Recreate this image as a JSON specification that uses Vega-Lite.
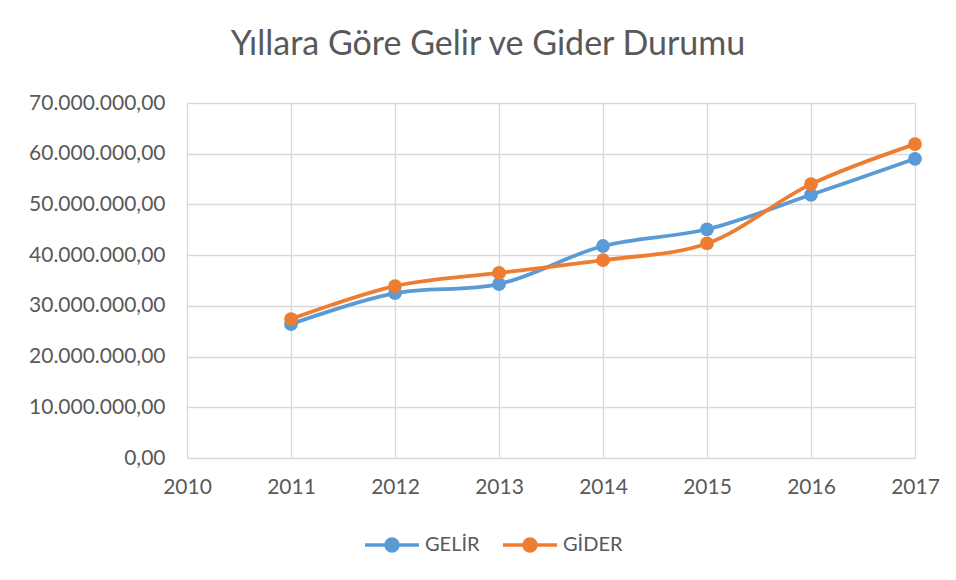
{
  "$schema": "https://vega.github.io/schema/vega-lite/v6.json",
  "width": 728,
  "height": 355,
  "autosize": {"type": "none"},
  "padding": {"left": 187, "top": 103, "right": 41, "bottom": 122},
  "background": "white",
  "config": {
    "locale": {"number": {"decimal": ",", "thousands": ".", "grouping": [3], "currency": ["", " ₺"]}},
    "font": "Lato",
    "view": {"stroke": null},
    "axis": {"labelFont": "Lato", "labelFontSize": 21, "labelColor": "#595959", "gridColor": "#D9D9D9", "gridWidth": 1.3, "domain": false, "ticks": false, "title": null, "labelFlush": false}
  },
  "title": {"text": "Yıllara Göre Gelir ve Gider Durumu", "font": "Lato", "fontSize": 34, "fontWeight": "normal", "color": "#595959", "anchor": "middle", "dx": -63, "offset": 30},
  "data": {"values": [
    {"yil": 2011, "seri": "GELİR", "deger": 26400000},
    {"yil": 2012, "seri": "GELİR", "deger": 32500000},
    {"yil": 2013, "seri": "GELİR", "deger": 34300000},
    {"yil": 2014, "seri": "GELİR", "deger": 41800000},
    {"yil": 2015, "seri": "GELİR", "deger": 45100000},
    {"yil": 2016, "seri": "GELİR", "deger": 51900000},
    {"yil": 2017, "seri": "GELİR", "deger": 59000000},
    {"yil": 2011, "seri": "GİDER", "deger": 27400000},
    {"yil": 2012, "seri": "GİDER", "deger": 33900000},
    {"yil": 2013, "seri": "GİDER", "deger": 36500000},
    {"yil": 2014, "seri": "GİDER", "deger": 39000000},
    {"yil": 2015, "seri": "GİDER", "deger": 42300000},
    {"yil": 2016, "seri": "GİDER", "deger": 54000000},
    {"yil": 2017, "seri": "GİDER", "deger": 61900000}
  ]},
  "encoding": {
    "x": {"field": "yil", "type": "quantitative", "scale": {"domain": [2010, 2017], "nice": false, "zero": false},
      "axis": {"values": [2010, 2011, 2012, 2013, 2014, 2015, 2016, 2017], "format": "d", "labelPadding": 18}},
    "y": {"field": "deger", "type": "quantitative", "scale": {"domain": [0, 70000000], "nice": false},
      "axis": {"values": [0, 10000000, 20000000, 30000000, 40000000, 50000000, 60000000, 70000000], "format": ",.2f", "labelPadding": 22}},
    "color": {"field": "seri", "type": "nominal",
      "scale": {"domain": ["GELİR", "GİDER"], "range": ["#5B9BD5", "#ED7D31"]},
      "legend": {"title": null, "orient": "none", "legendX": 176, "legendY": 413, "direction": "horizontal",
        "symbolType": "M-1,0L1,0M-0.22,0A0.22,0.22,0,1,1,0.22,0A0.22,0.22,0,1,1,-0.22,0Z",
        "symbolSize": 2916, "symbolStrokeWidth": 3.5, "labelFont": "Lato", "labelFontSize": 20, "labelColor": "#595959", "labelOffset": 4, "columnPadding": 16,
        "encode": {"symbols": {"update": {"fill": {"scale": "color", "field": "value"}, "stroke": {"scale": "color", "field": "value"}, "fillOpacity": {"value": 1}}}}}
    }
  },
  "layer": [
    {"mark": {"type": "line", "interpolate": "catmull-rom", "strokeWidth": 3.8}},
    {"mark": {"type": "point", "filled": true, "size": 190, "opacity": 1}}
  ]
}
